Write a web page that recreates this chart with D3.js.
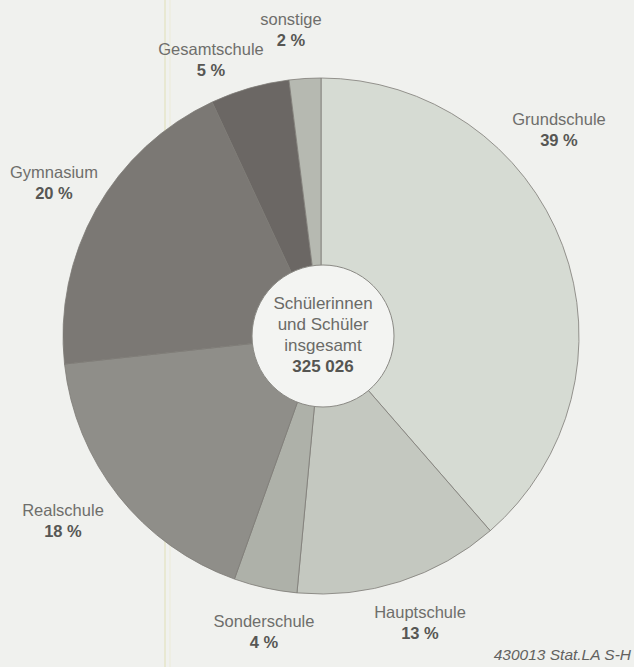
<!DOCTYPE html>
<html>
<head>
<meta charset="utf-8">
<script src="https://cdn.jsdelivr.net/npm/d3@7"></script>
<style>
  html, body { margin: 0; padding: 0; background: #f0f1ee; }
  svg { display: block; }
  text { font-family: "Liberation Sans", Arial, sans-serif; }
</style>
</head>
<body>
<svg id="chart" width="634" height="667"></svg>
<script>
// School types and their share of all pupils (percent)
const categories = ["Grundschule", "Hauptschule", "Sonderschule", "Realschule", "Gymnasium", "Gesamtschule", "sonstige"];
const shares = [39, 13, 4, 18, 20, 5, 2];
const sliceColors = ["#d6dbd3", "#c4c8c0", "#aeb1a9", "#8f8e89", "#7b7874", "#6b6764", "#b6b9b1"];
const centerLines = ["Schülerinnen", "und Schüler", "insgesamt"];
const totalLabel = "325 026";
const sourceNote = "430013 Stat.LA S-H";

// Hand-placed label anchors: centre x and baseline of the name line
const labelAnchor = {
  "Grundschule":  [559, 125],
  "Hauptschule":  [420, 618],
  "Sonderschule": [264, 627],
  "Realschule":   [63, 516],
  "Gymnasium":    [54, 178],
  "Gesamtschule": [211, 55],
  "sonstige":     [291, 25]
};

const W = 634, H = 667;
const cx = 321, cy = 336, rOuter = 258, rInner = 71;
const fontSize = 16.5;

const svg = d3.select("#chart");

// faint paper fold lines
svg.append("line").attr("x1", 165).attr("x2", 165).attr("y1", 0).attr("y2", H)
  .attr("stroke", "#e6e5c9").attr("stroke-width", 1.5);
svg.append("line").attr("x1", 170).attr("x2", 170).attr("y1", 0).attr("y2", H)
  .attr("stroke", "#ecebd8").attr("stroke-width", 1);

const data = categories.map((c, i) => ({ name: c, value: shares[i], color: sliceColors[i] }));

const pie = d3.pie().value(d => d.value).sort(null);
const arc = d3.arc().innerRadius(0).outerRadius(rOuter);

const g = svg.append("g").attr("transform", `translate(${cx},${cy})`);

g.selectAll("path.slice")
  .data(pie(data))
  .join("path")
  .attr("class", "slice")
  .attr("d", arc)
  .attr("fill", d => d.data.color)
  .attr("stroke", "#7d7b76")
  .attr("stroke-width", 0.8);

// centre disc
g.append("circle").attr("cx", 2).attr("r", rInner)
  .attr("fill", "#f3f4f2").attr("stroke", "#8a8984").attr("stroke-width", 1);

const ct = g.append("g").attr("text-anchor", "middle").attr("fill", "#6a6a67").attr("font-size", 17);
centerLines.forEach((t, i) => {
  ct.append("text").attr("x", 2).attr("y", -27 + i * 21).text(t);
});
ct.append("text").attr("x", 2).attr("y", 36).attr("font-weight", "bold").attr("fill", "#555552").text(totalLabel);

// slice labels
const lab = svg.append("g").attr("text-anchor", "middle").attr("font-size", fontSize);
data.forEach(d => {
  const [x, y] = labelAnchor[d.name];
  lab.append("text").attr("x", x).attr("y", y).attr("fill", "#6e6e6b").text(d.name);
  lab.append("text").attr("x", x).attr("y", y + 20.5).attr("fill", "#575754")
    .attr("font-weight", "bold").text(d.value + " %");
});

svg.append("text").attr("x", 631).attr("y", 660).attr("text-anchor", "end")
  .attr("font-size", 15.5).attr("font-style", "italic").attr("fill", "#62625f")
  .text(sourceNote);
</script>
</body>
</html>
